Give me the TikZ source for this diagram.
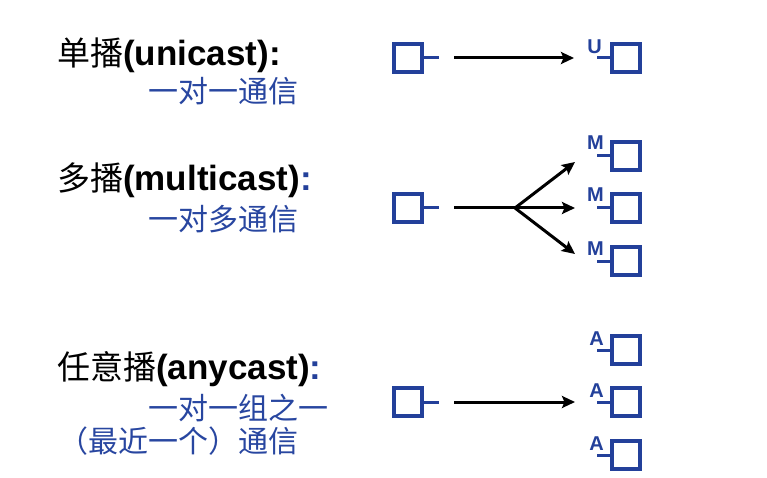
\documentclass[tikz,border=0pt]{standalone}
\usepackage{fontspec}
\setmainfont{Liberation Sans}
\newfontfamily\cjk{Noto Sans CJK SC}
\usetikzlibrary{arrows.meta}
\definecolor{nblue}{RGB}{35,64,154}
\definecolor{tblue}{RGB}{40,70,160}
\tikzset{
  hostbox/.style={draw=nblue, line width=3.5pt, minimum size=28pt, inner sep=0pt},
  stub/.style={draw=nblue, line width=3pt},
  flow/.style={draw=black, line width=3pt, -{Stealth[length=13pt,width=12pt,inset=2.5pt]}},
  plain/.style={draw=black, line width=3pt},
  lbl/.style={text=nblue, font=\fontsize{20}{22}\selectfont\bfseries, anchor=base east, inner sep=0pt},
  title/.style={anchor=base west, inner sep=0pt, font=\fontsize{35}{38}\selectfont\bfseries},
  sub/.style={anchor=base west, inner sep=0pt, text=tblue, font=\fontsize{30}{33}\selectfont\cjk},
}
\newcommand\tcj[1]{{\fontsize{33}{36}\selectfont\mdseries\cjk #1}}
\begin{document}
\begin{tikzpicture}[x=1pt,y=-1pt]
\useasboundingbox (0,0) rectangle (767,478);
% titles
\node[title] (t1) at (57,66) {\tcj{单播}(unicast):};
\node[sub] (d1) at (148,103) {一对一通信};
\node[title] (t2) at (57,191) {\tcj{多播}(multicast)\textcolor{nblue}{:}};
\node[sub] (d2) at (148,230) {一对多通信};
\node[title] (t3) at (57,379) {\tcj{任意播}(anycast)\textcolor{nblue}{:}};
\node[sub] (d3) at (148,419) {一对一组之一};
\node[sub] (d4) at (58,452) {（最近一个）通信};
% unicast
\node[hostbox] (s1) at (408,58) {};
\coordinate (s1e) at (439,58);
\draw[stub] (s1.east) -- (s1e);
\coordinate (s1a) at (454,58);
\node[hostbox] (u1) at (626,58) {};
\coordinate (u1s) at (597,58);
\draw[stub] (u1s) -- (u1.west);
\node[lbl] (lu1) at (602,54) {U};
\coordinate (u1a) at (574,58);
\draw[flow] (s1a) -- (u1a);
% multicast
\node[hostbox] (s2) at (408,208) {};
\coordinate (s2e) at (439,208);
\draw[stub] (s2.east) -- (s2e);
\coordinate (s2a) at (454,208);
\coordinate (br) at (515,208);
\draw[plain] (s2a) -- (br);
\foreach \i/\y in {1/156,2/208,3/261}{
  \node[hostbox] (m\i) at (626,\y) {};
  \coordinate (m\i s) at (597,\y);
  \draw[stub] (m\i s) -- (m\i.west);
  \node[lbl] (lm\i) at (604,\y-6) {M};
}
\coordinate (m1a) at (575,162);
\coordinate (m2a) at (575,208);
\coordinate (m3a) at (575,254);
\draw[flow] (br) -- (m1a);
\draw[flow] (br) -- (m2a);
\draw[flow] (br) -- (m3a);
% anycast
\node[hostbox] (s3) at (408,402) {};
\coordinate (s3e) at (439,402);
\draw[stub] (s3.east) -- (s3e);
\coordinate (s3a) at (454,402);
\foreach \i/\y in {1/350,2/402,3/455}{
  \node[hostbox] (a\i) at (626,\y) {};
  \coordinate (a\i s) at (597,\y);
  \draw[stub] (a\i s) -- (a\i.west);
  \node[lbl] (la\i) at (604,\y-5) {A};
}
\coordinate (a2a) at (575,402);
\draw[flow] (s3a) -- (a2a);
\end{tikzpicture}
\end{document}
